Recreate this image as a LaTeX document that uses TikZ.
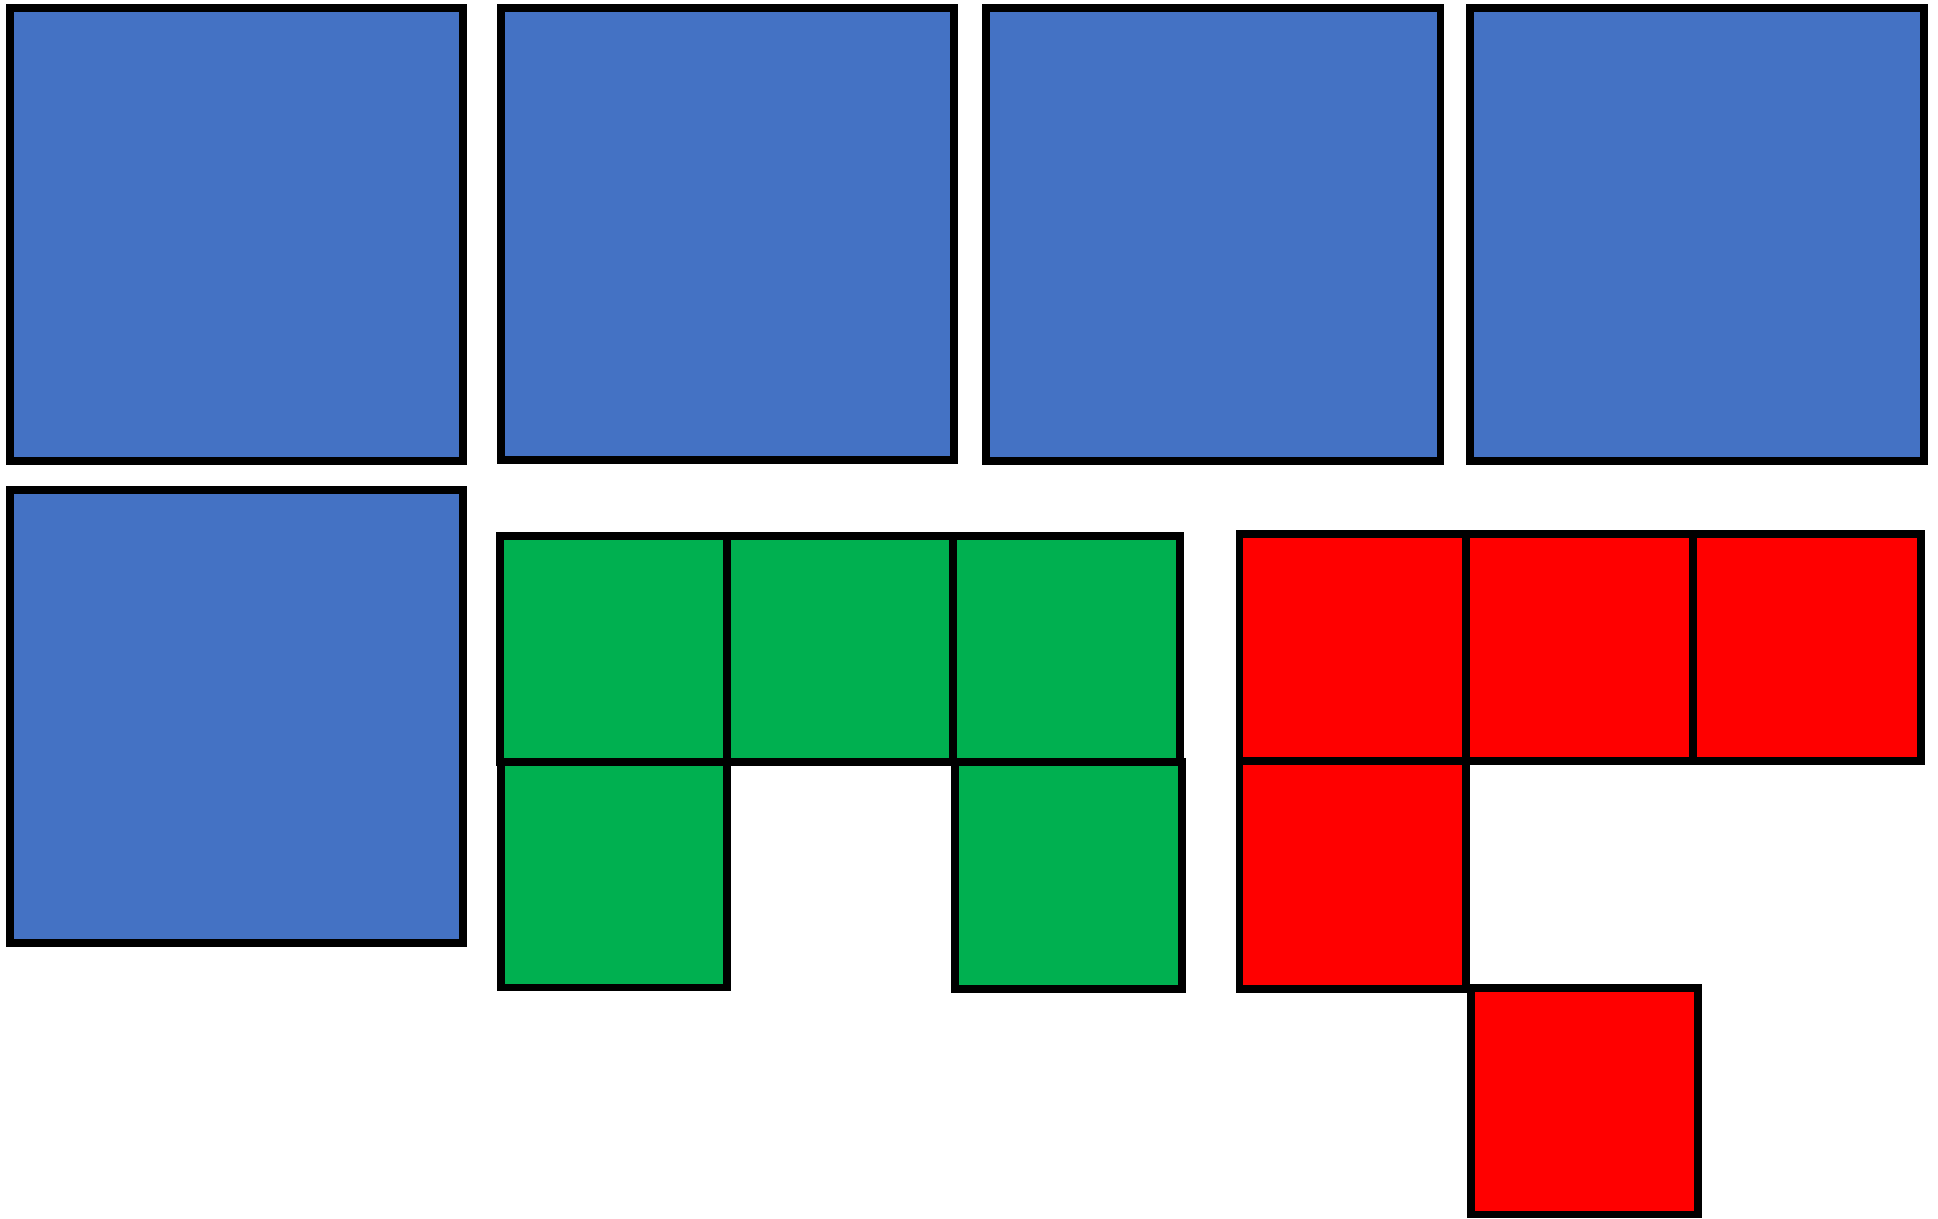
\documentclass[tikz,border=0pt]{standalone}
\definecolor{cblue}{HTML}{4472C4}
\definecolor{cgreen}{HTML}{00B050}
\definecolor{cred}{HTML}{FF0000}
\tikzset{
  cell/.style={draw=black, line width=2.27pt, line join=miter},
  bluecell/.style={cell, fill=cblue},
  greencell/.style={cell, fill=cgreen},
  redcell/.style={cell, fill=cred}
}
\begin{document}
\begin{tikzpicture}[x=0.01cm,y=-0.01cm]
\useasboundingbox (0,0) rectangle (1938,1219);
% blue squares
\draw[bluecell] (9.7,8.3) rectangle (462.7,461);
\draw[bluecell] (500.7,8) rectangle (954,460);
\draw[bluecell] (986,8.3) rectangle (1440.5,461);
\draw[bluecell] (1470,8.3) rectangle (1924,461);
\draw[bluecell] (9.7,489.7) rectangle (462.7,942.7);
% green cells
\draw[greencell] (499.7,535.7) rectangle (727,762);
\draw[greencell] (727,535.7) rectangle (953.3,762);
\draw[greencell] (953.3,535.7) rectangle (1180,762);
\draw[greencell] (501.3,762) rectangle (727,987.5);
\draw[greencell] (955,762.3) rectangle (1181.7,989);
% red cells
\draw[redcell] (1239.5,534.3) rectangle (1466.3,761);
\draw[redcell] (1466.3,534.3) rectangle (1693.4,761);
\draw[redcell] (1693.4,534.3) rectangle (1920.6,761);
\draw[redcell] (1239.5,761) rectangle (1466.3,989.3);
\draw[redcell] (1471,988.3) rectangle (1697.7,1214.5);
\end{tikzpicture}
\end{document}
